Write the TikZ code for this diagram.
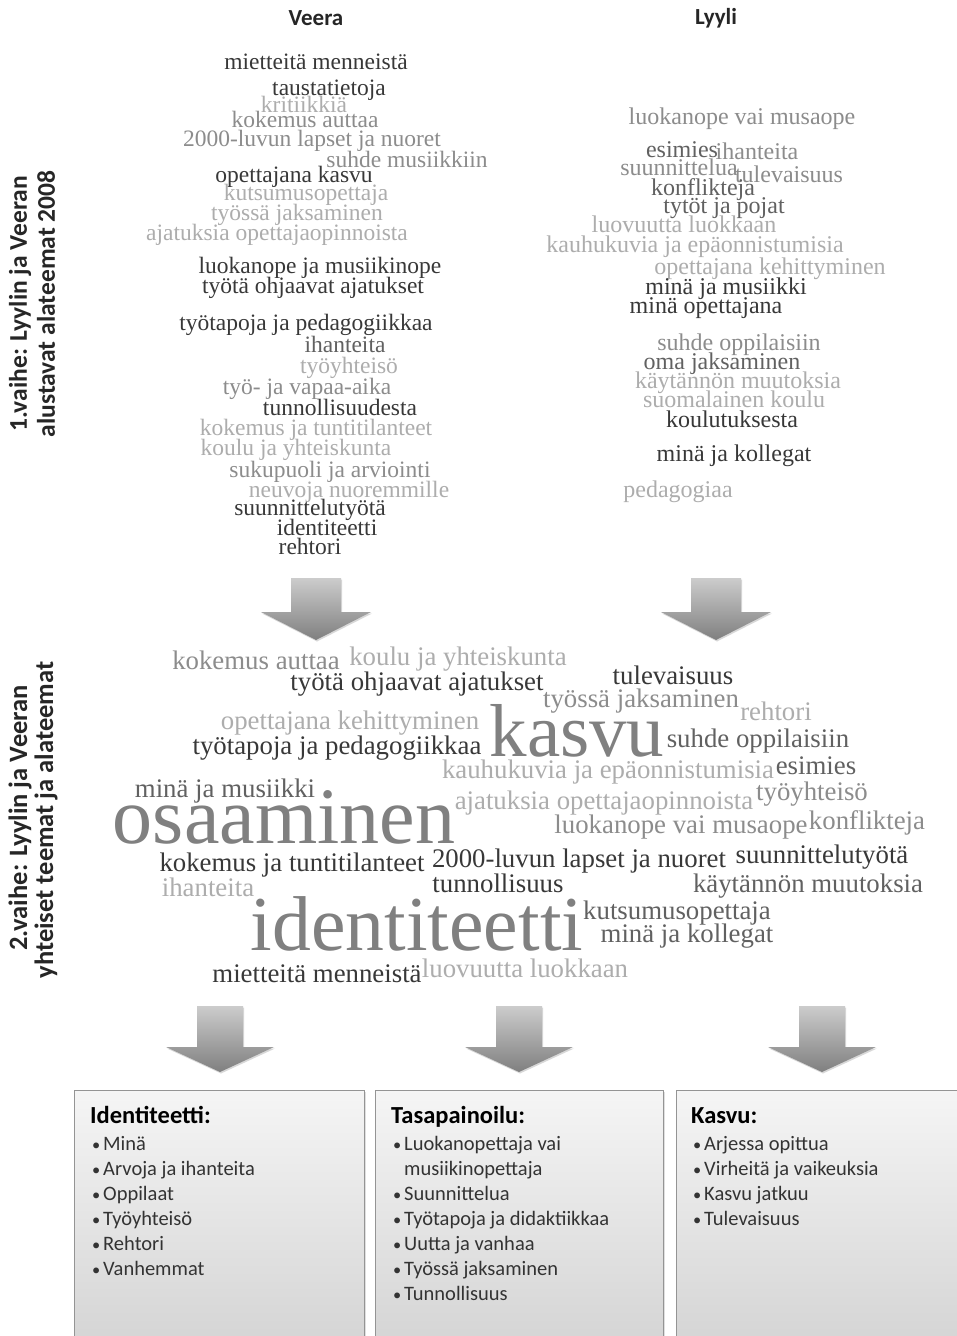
\documentclass[tikz,border=0pt]{standalone}
\usepackage{fontspec}
\usepackage{tikz}
\usetikzlibrary{shadows}
\setmainfont{Carlito}
\newfontfamily\cloudfont{Liberation Serif}
\definecolor{wdark}{gray}{0.22}
\definecolor{wmid}{gray}{0.38}
\definecolor{wgray}{gray}{0.55}
\definecolor{wlight}{gray}{0.68}
\definecolor{wbig}{gray}{0.50}
\newcommand{\bul}{\makebox[12pt][l]{\hspace{1pt}\scalebox{0.8}{\textbullet}}}

\begin{document}
\begin{tikzpicture}[x=1pt, y=-1pt,
  wrd/.style={font=\cloudfont\fontsize{#1}{#1}\selectfont, inner sep=0pt, anchor=mid, yshift=-5pt},
  bigwrd/.style={font=\cloudfont\fontsize{#1}{#1}\selectfont, inner sep=0pt, anchor=base, text=wbig},
  head/.style={font=\bfseries\fontsize{23}{26}\selectfont, text=black!85},
  side/.style={font=\bfseries\fontsize{#1}{#1}\selectfont, rotate=90, text=black!85},
  bigarrow/.style={top color=black!20, bottom color=black!50, drop shadow={opacity=.3, shadow xshift=1pt, shadow yshift=-1.5pt}},
  topicbox/.style={draw=black!42, line width=1pt, top color=black!4, bottom color=black!18, anchor=north west, minimum height=280pt, drop shadow={opacity=.25, shadow xshift=1.5pt, shadow yshift=-1.5pt}},
  boxtitle/.style={font=\bfseries\fontsize{24.5}{26}\selectfont, anchor=base west, inner sep=0pt},
  boxitem/.style={font=\fontsize{20.5}{24}\selectfont, anchor=base west, inner sep=0pt, text=black!80},
]
\clip (0,0) rectangle (957,1336);
\fill[white] (0,0) rectangle (957,1336);

% 見出し
\node[head] (veera) at (316,18) {Veera};
\node[head] (lyyli) at (716,18) {Lyyli};
\node[side=25.5] (s1a) at (20,304) {1.vaihe: Lyylin ja Veeran};
\node[side=25.5] (s1b) at (46,304) {alustavat alateemat 2008};
\node[side=26.5] (s2a) at (20,818) {2.vaihe: Lyylin ja Veeran};
\node[side=26.5] (s2b) at (46,820) {yhteiset teemat ja alateemat};

% Veera
\node[wrd=23.5, text=wdark] (v1) at (316,62) {mietteitä menneistä};
\node[wrd=23.5, text=wdark] (v2) at (329,88) {taustatietoja};
\node[wrd=23.5, text=wlight] (v3) at (304,105) {kritiikkiä};
\node[wrd=23.5, text=wgray] (v4) at (305,120) {kokemus auttaa};
\node[wrd=23.5, text=wgray] (v5) at (312,139) {2000-luvun lapset ja nuoret};
\node[wrd=23.5, text=wgray] (v6) at (407,160) {suhde musiikkiin};
\node[wrd=23.5, text=wdark] (v7) at (294,175) {opettajana kasvu};
\node[wrd=23.5, text=wlight] (v8) at (306,193) {kutsumusopettaja};
\node[wrd=23.5, text=wlight] (v9) at (297,213) {työssä jaksaminen};
\node[wrd=23.5, text=wlight] (v10) at (277,233) {ajatuksia opettajaopinnoista};
\node[wrd=23.5, text=wdark] (v11) at (320,266) {luokanope ja musiikinope};
\node[wrd=23.5, text=wdark] (v12) at (313,286) {työtä ohjaavat ajatukset};
\node[wrd=23.5, text=wdark] (v13) at (306,323) {työtapoja ja pedagogiikkaa};
\node[wrd=23.5, text=wmid] (v14) at (345,345) {ihanteita};
\node[wrd=23.5, text=wlight] (v15) at (349,366) {työyhteisö};
\node[wrd=23.5, text=wgray] (v16) at (307,387) {työ- ja vapaa-aika};
\node[wrd=23.5, text=wdark] (v17) at (340,408) {tunnollisuudesta};
\node[wrd=23.5, text=wlight] (v18) at (316,428) {kokemus ja tuntitilanteet};
\node[wrd=23.5, text=wlight] (v19) at (296,448) {koulu ja yhteiskunta};
\node[wrd=23.5, text=wgray] (v20) at (330,470) {sukupuoli ja arviointi};
\node[wrd=23.5, text=wlight] (v21) at (349,490) {neuvoja nuoremmille};
\node[wrd=23.5, text=wdark] (v22) at (310,508) {suunnittelutyötä};
\node[wrd=23.5, text=wdark] (v23) at (327,528) {identiteetti};
\node[wrd=23.5, text=wdark] (v24) at (310,547) {rehtori};

% Lyyli
\node[wrd=24, text=wgray] (l1) at (742,117) {luokanope vai musaope};
\node[wrd=24, text=wmid] (l2) at (682,150) {esimies};
\node[wrd=24, text=wgray] (l3) at (757,152) {ihanteita};
\node[wrd=24, text=wgray] (l4) at (679,168) {suunnittelua};
\node[wrd=24, text=wgray] (l5) at (789,175) {tulevaisuus};
\node[wrd=24, text=wmid] (l6) at (703,188) {konflikteja};
\node[wrd=24, text=wmid] (l7) at (724,206) {tytöt ja pojat};
\node[wrd=24, text=wlight] (l8) at (684,225) {luovuutta luokkaan};
\node[wrd=24, text=wlight] (l9) at (695,245) {kauhukuvia ja epäonnistumisia};
\node[wrd=24, text=wlight] (l10) at (770,267) {opettajana kehittyminen};
\node[wrd=24, text=wdark] (l11) at (726,287) {minä ja musiikki};
\node[wrd=24, text=wdark] (l12) at (706,306) {minä opettajana};
\node[wrd=24, text=wgray] (l13) at (739,343) {suhde oppilaisiin};
\node[wrd=24, text=wmid] (l14) at (722,362) {oma jaksaminen};
\node[wrd=24, text=wlight] (l15) at (738,381) {käytännön muutoksia};
\node[wrd=24, text=wlight] (l16) at (734,400) {suomalainen koulu};
\node[wrd=24, text=wdark] (l17) at (732,420) {koulutuksesta};
\node[wrd=24, text=wdark] (l18) at (734,454) {minä ja kollegat};
\node[wrd=24, text=wlight] (l19) at (678,490) {pedagogiaa};

% ylänuolet
\path[bigarrow] (291,578) -- (341,578) -- (341,612) -- (371,612) -- (316,640) -- (261,612) -- (291,612) -- cycle;
\path[bigarrow] (691,578) -- (741,578) -- (741,612) -- (771,612) -- (716,640) -- (661,612) -- (691,612) -- cycle;

% yhteiset teemat
\node[wrd=26.8, text=wgray] (y1) at (256,662) {kokemus auttaa};
\node[wrd=26.8, text=wlight] (y2) at (458,658) {koulu ja yhteiskunta};
\node[wrd=26.8, text=wdark] (y3) at (417,683) {työtä ohjaavat ajatukset};
\node[wrd=26.8, text=wdark] (y4) at (673,677) {tulevaisuus};
\node[wrd=26.8, text=wgray] (y5) at (641,700) {työssä jaksaminen};
\node[wrd=26.8, text=wlight] (y6) at (776,713) {rehtori};
\node[wrd=26.8, text=wlight] (y7) at (350,722) {opettajana kehittyminen};
\node[wrd=26.8, text=wdark] (y8) at (337,747) {työtapoja ja pedagogiikkaa};
\node[bigwrd=75] (kasvu) at (577,756) {kasvu};
\node[wrd=26.8, text=wmid] (y10) at (758,740) {suhde oppilaisiin};
\node[wrd=26.8, text=wlight] (y11) at (608,771) {kauhukuvia ja epäonnistumisia};
\node[wrd=26.8, text=wmid] (y12) at (816,767) {esimies};
\node[wrd=26.8, text=wmid] (y13) at (225,790) {minä ja musiikki};
\node[wrd=26.8, text=wlight] (y14) at (604,802) {ajatuksia opettajaopinnoista};
\node[wrd=26.8, text=wgray] (y15) at (812,793) {työyhteisö};
\node[bigwrd=80] (osaaminen) at (284,843) {osaaminen};
\node[wrd=26.8, text=wgray] (y17) at (681,826) {luokanope vai musaope};
\node[wrd=26.8, text=wgray] (y18) at (867,822) {konflikteja};
\node[wrd=26.8, text=wdark] (y19) at (292,864) {kokemus ja tuntitilanteet};
\node[wrd=26.8, text=wdark] (y20) at (579,860) {2000-luvun lapset ja nuoret};
\node[wrd=26.8, text=wdark] (y21) at (822,856) {suunnittelutyötä};
\node[wrd=26.8, text=wlight] (y22) at (208,889) {ihanteita};
\node[wrd=26.8, text=wdark] (y23) at (498,885) {tunnollisuus};
\node[wrd=26.8, text=wmid] (y24) at (808,885) {käytännön muutoksia};
\node[bigwrd=77.7] (identiteetti) at (417,950) {identiteetti};
\node[wrd=26.8, text=wmid] (y26) at (677,912) {kutsumusopettaja};
\node[wrd=26.8, text=wmid] (y27) at (687,935) {minä ja kollegat};
\node[wrd=26.8, text=wdark] (y28) at (317,975) {mietteitä menneistä};
\node[wrd=26.8, text=wlight] (y29) at (525,970) {luovuutta luokkaan};

% alanuolet
\path[bigarrow] (197,1006) -- (243,1006) -- (243,1047) -- (274,1047) -- (220,1072) -- (166,1047) -- (197,1047) -- cycle;
\path[bigarrow] (496,1006) -- (542,1006) -- (542,1047) -- (573,1047) -- (519,1072) -- (465,1047) -- (496,1047) -- cycle;
\path[bigarrow] (799,1006) -- (845,1006) -- (845,1047) -- (876,1047) -- (822,1072) -- (768,1047) -- (799,1047) -- cycle;

% laatikot
\node[topicbox, minimum width=290pt] (idbox) at (74,1090) {};
\node[topicbox, minimum width=288pt] (tasbox) at (375,1090) {};
\node[topicbox, minimum width=300pt] (kasbox) at (676,1090) {};

\node[boxtitle] (idtitle) at (90,1123) {Identiteetti:};
\foreach \t [count=\i] in {Minä, Arvoja ja ihanteita, Oppilaat, Työyhteisö, Rehtori, Vanhemmat}
  \node[boxitem] (id\i) at (91,1125+25*\i) {\bul\t};

\node[boxtitle] (tastitle) at (391,1123) {Tasapainoilu:};
\foreach \t [count=\i] in {\bul Luokanopettaja vai, \hspace*{12pt}musiikinopettaja, \bul Suunnittelua, \bul Työtapoja ja didaktiikkaa, \bul Uutta ja vanhaa, \bul Työssä jaksaminen, \bul Tunnollisuus}
  \node[boxitem] (tas\i) at (392,1125+25*\i) {\t};

\node[boxtitle] (kastitle) at (691,1123) {Kasvu:};
\foreach \t [count=\i] in {Arjessa opittua, Virheitä ja vaikeuksia, Kasvu jatkuu, Tulevaisuus}
  \node[boxitem] (kas\i) at (692,1125+25*\i) {\bul\t};
\end{tikzpicture}
\end{document}
